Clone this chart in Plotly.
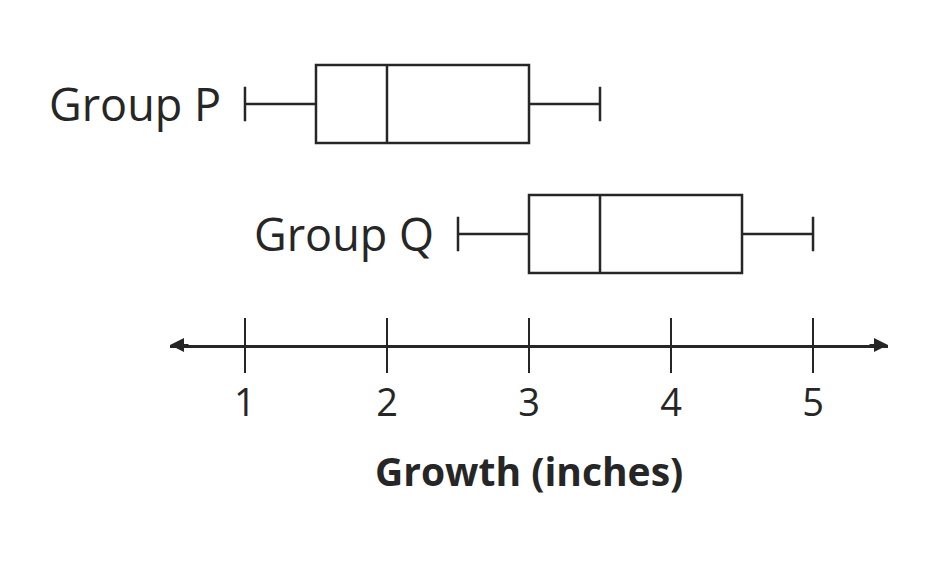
import plotly.graph_objects as go

groups = ['Group P', 'Group Q']
positions = [2, 1]
mins = [1, 2.5]
q1s = [1.5, 3]
medians = [2, 3.5]
q3s = [3, 4.5]
maxs = [3.5, 5]
tick_vals = [1, 2, 3, 4, 5]

ink = '#262626'
font = 'Open Sans'

fig = go.Figure()
for name, pos, lo, a, m, b, hi in zip(groups, positions, mins, q1s, medians, q3s, maxs):
    fig.add_trace(go.Box(
        name=name, orientation='h', y=[pos],
        lowerfence=[lo], q1=[a], median=[m], q3=[b], upperfence=[hi],
        width=0.6, whiskerwidth=0.44,
        fillcolor='white', line=dict(color=ink, width=2.5),
        hoverinfo='skip', showlegend=False,
    ))
    fig.add_annotation(x=lo, y=pos, text=name, showarrow=False,
                       xanchor='right', xshift=-22,
                       font=dict(family=font, size=45, color=ink))

# upper halves of the number-line ticks
for t in tick_vals:
    fig.add_shape(type='line', xref='x', yref='y domain', x0=t, x1=t,
                  ysizemode='pixel', yanchor=0, y0=0, y1=27,
                  line=dict(color=ink, width=2))

# arrowheads at both ends of the number line
for end, dx in [(0.472, 20), (5.528, -20)]:
    fig.add_annotation(x=end, y=0, xref='x', yref='y domain', ax=dx, ay=0,
                       showarrow=True, arrowhead=2, arrowsize=1.4, arrowwidth=2,
                       arrowcolor=ink, text='')

fig.add_annotation(x=3, y=0, xref='x', yref='y domain', yanchor='middle', yshift=-125,
                   text='<b>Growth (inches)</b>', showarrow=False,
                   font=dict(family=font, size=39, color=ink))

fig.update_layout(
    width=940, height=580,
    margin=dict(l=162, r=60, t=32, b=243),
    plot_bgcolor='white', paper_bgcolor='white',
    xaxis=dict(range=[0.472, 5.528], tickvals=tick_vals, showgrid=False, zeroline=False,
               showline=True, linecolor=ink, linewidth=2.5,
               ticks='outside', ticklen=25, tickwidth=2, tickcolor=ink,
               ticklabelstandoff=-2,
               tickfont=dict(family=font, size=38, color=ink)),
    yaxis=dict(range=[0.146, 2.492], visible=False),
)

fig.write_html('out.html')
